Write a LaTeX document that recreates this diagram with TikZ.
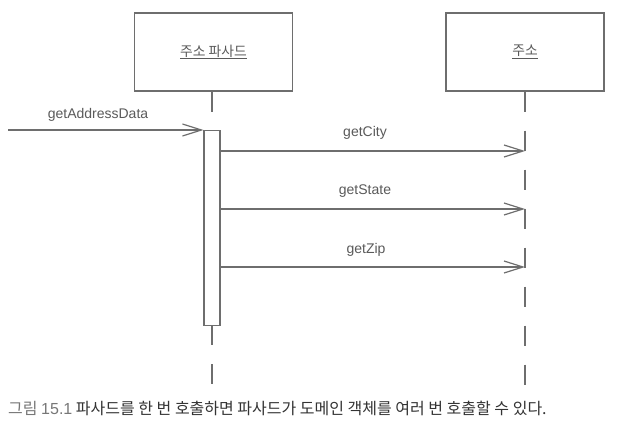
\documentclass[tikz,border=0pt]{standalone}
\usepackage{fontspec}
\setmainfont{Liberation Sans}
\newfontfamily\kr{Noto Sans CJK KR}
\usetikzlibrary{arrows.meta}
\definecolor{linegray}{HTML}{6E6E6E}
\definecolor{textgray}{HTML}{5A5A5A}
\definecolor{capgray}{HTML}{333333}
\definecolor{capnum}{HTML}{777777}
\begin{document}
\begin{tikzpicture}[x=1pt,y=-1pt,
  objbox/.style={draw=linegray, line width=1.1pt, minimum width=158pt, minimum height=78pt, inner sep=0pt, text=textgray, font=\kr\fontsize{13.8}{15}\selectfont},
  actbox/.style={draw=linegray, line width=1.1pt, fill=white, minimum width=16pt, minimum height=195pt, inner sep=0pt},
  lifeline/.style={draw=linegray, line width=1.2pt, dash pattern=on 20pt off 19pt},
  msg/.style={draw=linegray, line width=1.2pt, -{Straight Barb[length=19pt,width=12pt,line width=1.2pt]}},
  lbl/.style={text=textgray, font=\fontsize{14}{16}\selectfont, inner sep=0pt}
]
\useasboundingbox (0,0) rectangle (630,431);
\fill[white] (0,0) rectangle (630,431);

\node[objbox] (fa) at (213.5,52) {\underline{주소 파사드}};
\node[objbox] (ad) at (525,52) {\underline{주소}};

\coordinate (faL) at (212,130);
\coordinate (faE) at (212,385);
\coordinate (adE) at (525,385);
\coordinate (src) at (8,130);

% lifelines
\path[lifeline] (fa.south -| faL) -- (faL);
\path[lifeline] (212,325) -- (faE);
\path[lifeline] (ad.south) -- (adE);

\node[actbox, anchor=north] (act) at (212,130) {};

\coordinate (adC) at (525,151);
\coordinate (adS) at (525,209);
\coordinate (adZ) at (525,267);

\path[msg] (src) -- (act.north west);
\path[msg] (act.east |- adC) -- (adC);
\path[msg] (act.east |- adS) -- (adS);
\path[msg] (act.east |- adZ) -- (adZ);

\node[lbl] (l0) at (98,115) {getAddressData};
\node[lbl] (l1) at (365,133) {getCity};
\node[lbl] (l2) at (365,191) {getState};
\node[lbl] (l3) at (366,250) {getZip};

\node[anchor=west, inner sep=0pt, font=\kr\fontsize{16}{18}\selectfont, text=capgray] (cap) at (8,408) {\textcolor{capnum}{그림 {\rmfamily 15.1}} 파사드를 한 번 호출하면 파사드가 도메인 객체를 여러 번 호출할 수 있다.};
\end{tikzpicture}
\end{document}
